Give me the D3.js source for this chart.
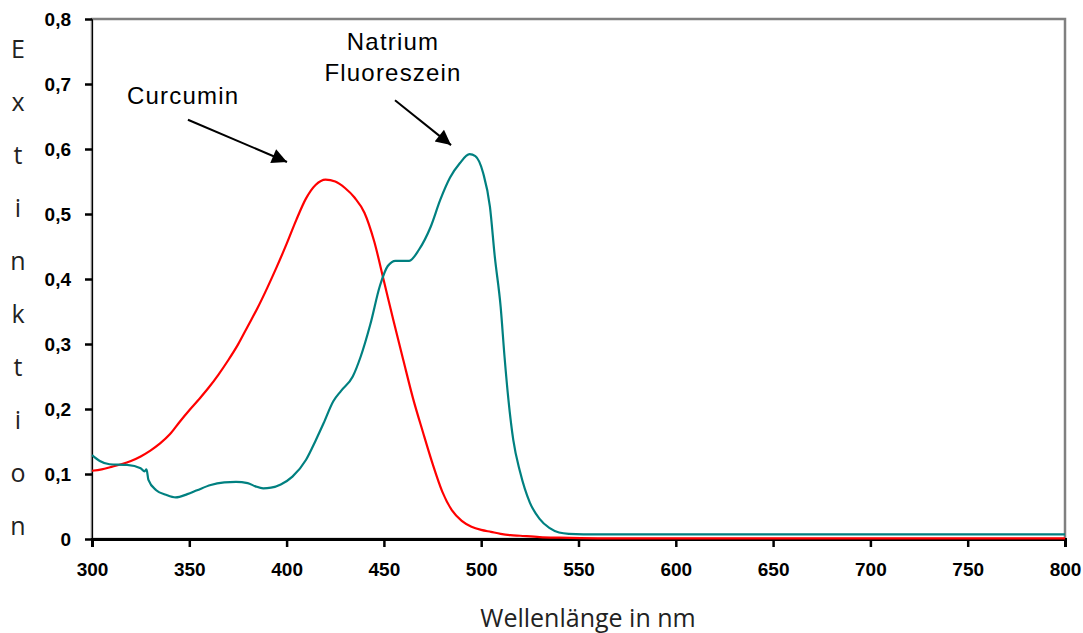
<!DOCTYPE html>
<html>
<head>
<meta charset="utf-8">
<script src="https://cdn.jsdelivr.net/npm/d3@7"></script>
<style>
  body { margin: 0; background: #fff; }
  .tick text { font-family: "Liberation Sans", Arial, sans-serif; font-weight: bold; font-size: 19px; fill: #000; }
  .lbl { font-family: "Open Sans", "Noto Sans", sans-serif; font-size: 25px; fill: #222; }
  .ytitle { font-size: 25px; }
  .note { font-family: "Liberation Sans", Arial, sans-serif; font-size: 24px; letter-spacing: 1.2px; fill: #000; }
</style>
</head>
<body>
<svg id="chart" width="1083" height="633"></svg>
<script>
// Curcumin absorption spectrum
const curcuminNm  = [300, 305, 310, 315, 320, 325, 330, 335, 340, 345, 350, 355, 360, 365, 370, 375, 380, 385, 390, 395,
                     400, 405, 410, 415, 420, 425, 430, 435, 440, 445, 450, 455, 460, 465, 470, 475, 480, 485, 490, 495,
                     500, 505, 510, 515, 520, 530, 540, 560, 800];
const curcuminExt = [0.105, 0.107, 0.111, 0.115, 0.120, 0.127, 0.136, 0.147, 0.161, 0.180, 0.198, 0.215, 0.233, 0.253, 0.275, 0.299, 0.327, 0.355, 0.386, 0.419,
                     0.454, 0.491, 0.524, 0.545, 0.553, 0.550, 0.540, 0.525, 0.502, 0.458, 0.397, 0.335, 0.275, 0.216, 0.165, 0.116, 0.073, 0.044, 0.028, 0.019,
                     0.014, 0.011, 0.008, 0.006, 0.005, 0.003, 0.002, 0.001, 0.001];

// Natrium-Fluoreszein absorption spectrum
const fluorNm  = [300, 304, 309, 318, 325, 327, 328, 329, 333, 338, 343, 349, 354, 361, 368, 374, 380, 384, 388, 392,
                  397, 403, 410, 415, 419, 424, 428, 434, 438, 443, 448, 452, 456, 463, 468, 474, 479, 484, 489, 494,
                  497, 501, 504.5, 507, 510, 512, 514, 516.5, 520, 525, 530, 535, 540, 545, 560, 800];
const fluorExt = [0.129, 0.120, 0.115, 0.114, 0.109, 0.104, 0.107, 0.091, 0.075, 0.068, 0.064, 0.069, 0.075, 0.083, 0.087, 0.088, 0.086, 0.081, 0.078, 0.079,
                  0.084, 0.096, 0.122, 0.152, 0.178, 0.212, 0.228, 0.250, 0.280, 0.330, 0.390, 0.420, 0.428, 0.428, 0.445, 0.480, 0.522, 0.556, 0.578, 0.592,
                  0.589, 0.563, 0.511, 0.434, 0.357, 0.280, 0.214, 0.152, 0.103, 0.056, 0.031, 0.017, 0.010, 0.008, 0.007, 0.007];

const xTicks = [300, 350, 400, 450, 500, 550, 600, 650, 700, 750, 800];
const yTicks = [0, 0.1, 0.2, 0.3, 0.4, 0.5, 0.6, 0.7, 0.8];
const yTitle = "Extinktion";
const xTitle = "Wellenlänge in nm";

const svg = d3.select("#chart");
const margin = {left: 92, top: 19, right: 18, bottom: 94};
const W = 1083 - margin.left - margin.right,
      H = 633 - margin.top - margin.bottom;

const x = d3.scaleLinear().domain([300, 800]).range([0, W]);
const y = d3.scaleLinear().domain([0, 0.8]).range([H, 0]);

const g = svg.append("g").attr("transform", `translate(${margin.left},${margin.top})`);

// plot frame
g.append("rect")
  .attr("x", 0).attr("y", 0).attr("width", W).attr("height", H)
  .attr("fill", "none").attr("stroke", "#808080").attr("stroke-width", 2.5);

const fmt = d => d === 0 ? "0" : d3.format(".1f")(d).replace(".", ",");

const yAx = g.append("g").call(d3.axisLeft(y).tickValues(yTicks).tickFormat(fmt).tickSize(7).tickPadding(14));
yAx.select(".domain").attr("stroke", "#000").attr("stroke-width", 1);
yAx.selectAll(".tick line").attr("stroke", "#000").attr("stroke-width", 2.5);

const xAx = g.append("g").attr("transform", `translate(0,${H})`)
  .call(d3.axisBottom(x).tickValues(xTicks).tickSize(8).tickPadding(16));
xAx.select(".domain").attr("stroke", "#000").attr("stroke-width", 3);
xAx.selectAll(".tick line").attr("stroke", "#000").attr("stroke-width", 2.5);

// curves
const line = d3.line().x(d => x(d[0])).y(d => y(d[1])).curve(d3.curveMonotoneX);
const series = [
  {nm: curcuminNm, ext: curcuminExt, color: "#ff0000"},
  {nm: fluorNm, ext: fluorExt, color: "#008080"}
];
g.selectAll("path.curve").data(series).enter().append("path")
  .attr("class", "curve")
  .attr("d", s => line(d3.zip(s.nm, s.ext)))
  .attr("fill", "none")
  .attr("stroke", s => s.color)
  .attr("stroke-width", 2.2);

// annotations
svg.append("defs").append("marker")
  .attr("id", "arr").attr("viewBox", "0 0 10 10").attr("refX", 10).attr("refY", 5)
  .attr("markerWidth", 18).attr("markerHeight", 15).attr("markerUnits", "userSpaceOnUse")
  .attr("orient", "auto")
  .append("path").attr("d", "M0,0 L10,5 L0,10 Z").attr("fill", "#000");

const arrows = [
  {from: [349.3, 0.645], to: [400.2, 0.580]},
  {from: [455.7, 0.675], to: [484.5, 0.606]}
];
g.selectAll("line.arrow").data(arrows).enter().append("line")
  .attr("x1", d => x(d.from[0])).attr("y1", d => y(d.from[1]))
  .attr("x2", d => x(d.to[0])).attr("y2", d => y(d.to[1]))
  .attr("stroke", "#000").attr("stroke-width", 2)
  .attr("marker-end", "url(#arr)");

g.append("text").attr("class", "note").attr("x", x(318)).attr("y", y(0.669)).text("Curcumin");
g.append("text").attr("class", "note").attr("x", x(454.7)).attr("y", y(0.752)).attr("text-anchor", "middle").text("Natrium");
g.append("text").attr("class", "note").attr("x", x(454.7)).attr("y", y(0.7046)).attr("text-anchor", "middle").text("Fluoreszein");

// axis titles
svg.selectAll("text.ytitle").data(yTitle.split("")).enter().append("text")
  .attr("class", "lbl ytitle")
  .attr("x", 18).attr("y", (d, i) => 58 + i * 53)
  .attr("text-anchor", "middle")
  .text(d => d);

svg.append("text").attr("class", "lbl")
  .attr("x", 588).attr("y", 627)
  .attr("text-anchor", "middle")
  .text(xTitle);
</script>
</body>
</html>
